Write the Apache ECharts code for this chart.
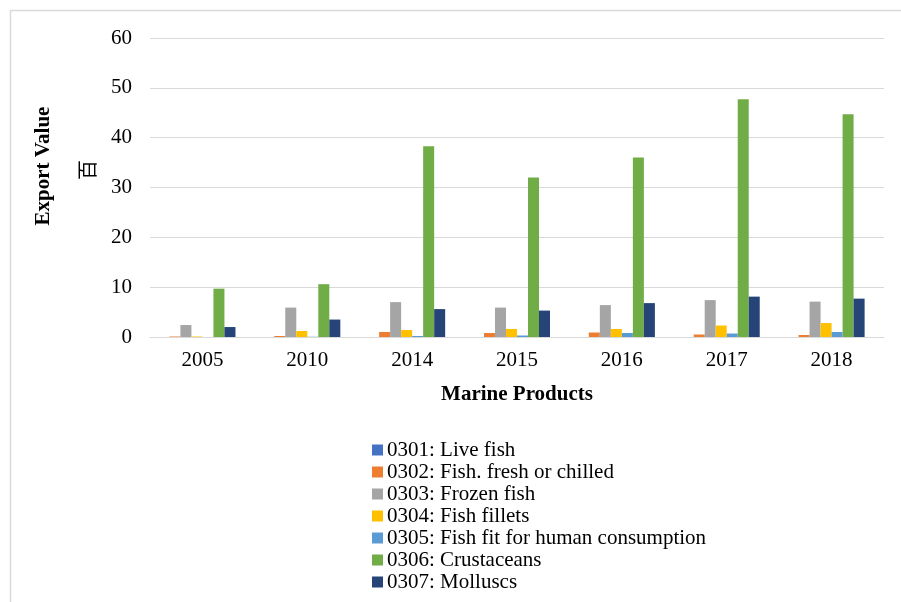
<!DOCTYPE html>
<html><head><meta charset="utf-8">
<script src="https://cdn.jsdelivr.net/npm/echarts@6/dist/echarts.min.js"></script>
<style>html,body{margin:0;padding:0;background:#fff}#c{width:901px;height:602px}</style>
</head><body><div id="c"></div>
<script>
const categories = ['2005','2010','2014','2015','2016','2017','2018'];
const seriesNames = ['0301: Live fish','0302: Fish. fresh or chilled','0303: Frozen fish','0304: Fish fillets','0305: Fish fit for human consumption','0306: Crustaceans','0307: Molluscs'];
const s0301 = [0, 0, 0, 0, 0, 0, 0];
const s0302 = [0.1, 0.2, 1.0, 0.8, 0.9, 0.5, 0.4];
const s0303 = [2.4, 5.9, 7.0, 5.9, 6.4, 7.4, 7.1];
const s0304 = [0.1, 1.2, 1.4, 1.6, 1.6, 2.3, 2.8];
const s0305 = [0, 0.05, 0.2, 0.3, 0.8, 0.7, 1.0];
const s0306 = [9.7, 10.6, 38.3, 32.0, 36.0, 47.7, 44.7];
const s0307 = [2.0, 3.5, 5.6, 5.3, 6.8, 8.1, 7.7];
// the source chart reserves one extra, empty slot in each group
const sEmpty = [];
const yTicks = [0, 10, 20, 30, 40, 50, 60];
const colors = ['#4472C4','#ED7D31','#A5A5A5','#FFC000','#5B9BD5','#70AD47','#264478','#9E480E'];
const values = [s0301,s0302,s0303,s0304,s0305,s0306,s0307];
const font = '"Liberation Serif", "Times New Roman", serif';

const series = seriesNames.map((n, i) => ({
  name: n, type: 'bar', data: values[i],
  barGap: '0%', barCategoryGap: '16%'
}));
series.push({ name: '_empty', type: 'bar', data: sEmpty, barGap: '0%', barCategoryGap: '16%' });

const chart = echarts.init(document.getElementById('c'));
chart.setOption({
  animation: false,
  color: colors,
  textStyle: { fontFamily: font },
  grid: { left: 150, right: 17, top: 38, bottom: 265 },
  legend: {
    orient: 'vertical', left: 372, top: 439, padding: 0,
    itemWidth: 11, itemHeight: 11, itemGap: 0,
    icon: 'rect',
    textStyle: { fontFamily: font, fontSize: 21, lineHeight: 22, color: '#000', padding: [0,0,0,-1] },
    data: seriesNames
  },
  xAxis: {
    type: 'category', data: categories,
    axisLine: { lineStyle: { color: '#d9d9d9', width: 1 } },
    axisTick: { show: false },
    axisLabel: { fontFamily: font, fontSize: 21, color: '#000', margin: 13 },
    name: 'Marine Products', nameLocation: 'middle', nameGap: 47,
    nameTextStyle: { fontFamily: font, fontSize: 21, fontWeight: 'bold', color: '#000' }
  },
  yAxis: {
    type: 'value', min: yTicks[0], max: yTicks[yTicks.length-1], interval: 10,
    axisLine: { show: false }, axisTick: { show: false },
    splitLine: { lineStyle: { color: '#d9d9d9', width: 1 } },
    axisLabel: { fontFamily: font, fontSize: 21, color: '#000', margin: 18 }
  },
  graphic: [
    { type: 'rect', left: 8, top: 8, shape: { x: 0, y: 0, width: 1000, height: 1000 }, silent: true,
      style: { fill: 'none', stroke: '#d9d9d9', lineWidth: 1.5 } },
    { type: 'text', x: 44, y: 166, rotation: Math.PI/2,
      style: { text: 'Export Value', font: 'bold 21px ' + font, fill: '#000', align: 'center', verticalAlign: 'middle' } },
    { type: 'text', x: 87, y: 170, rotation: Math.PI/2,
      style: { text: '百', font: '20px "Noto Sans CJK SC"', fill: '#000', align: 'center', verticalAlign: 'middle' } }
  ],
  series: series
});
</script></body></html>
